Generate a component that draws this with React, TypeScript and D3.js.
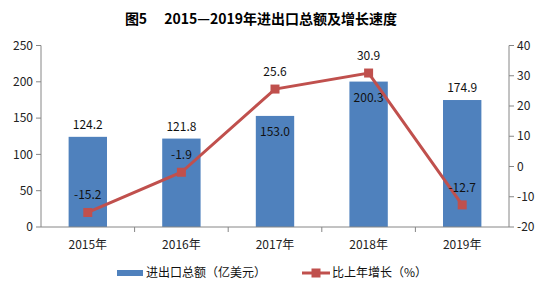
import React, { useRef, useEffect } from "react";
import * as d3 from "d3";

const years = ["2015年", "2016年", "2017年", "2018年", "2019年"];
const totals = [124.2, 121.8, 153.0, 200.3, 174.9];
const growth = [-15.2, -1.9, 25.6, 30.9, -12.7];
const leftTicks = [0, 50, 100, 150, 200, 250];
const rightTicks = [-20, -10, 0, 10, 20, 30, 40];
// bar labels that sit inside the bar top (line labels take the space above)
const insideLabel = [false, false, true, true, false];

const FONT = "'Noto Sans CJK SC', 'Noto Sans', sans-serif";
const BLUE = "#4F81BD";
const RED = "#C0504D";
const AXIS = "#868686";

const App: React.FC = () => {
  const svgRef = useRef<SVGSVGElement | null>(null);

  useEffect(() => {
    const svg = d3.select(svgRef.current);
    svg.selectAll("*").remove();

    const left = 41;
    const right = 509;
    const top = 45.5;
    const bottom = 227;

    const x = d3.scaleBand().domain(years).range([left, right]).padding(0);
    const barW = x.bandwidth() * 0.41;
    const yL = d3.scaleLinear().domain([0, 250]).range([bottom, top]);
    const yR = d3.scaleLinear().domain([-20, 40]).range([bottom, top]);
    const cx = (d: string) => x(d)! + x.bandwidth() / 2;

    // title
    svg
      .append("text")
      .attr("x", 261)
      .attr("y", 24)
      .attr("text-anchor", "middle")
      .attr("font-family", FONT)
      .attr("font-weight", "bold")
      .attr("font-size", 14)
      .text("图5\u3000 2015—2019年进出口总额及增长速度");

    // bars
    svg
      .selectAll("rect.bar")
      .data(totals)
      .enter()
      .append("rect")
      .attr("class", "bar")
      .attr("x", (_, i) => cx(years[i]) - barW / 2)
      .attr("y", (d) => yL(d))
      .attr("width", barW)
      .attr("height", (d) => bottom - yL(d))
      .attr("fill", BLUE);

    // axes
    const gL = svg.append("g").attr("transform", `translate(${left},0)`);
    gL.append("line").attr("y1", top).attr("y2", bottom).attr("stroke", AXIS);
    leftTicks.forEach((t) => {
      gL.append("line").attr("x1", -5).attr("x2", 0).attr("y1", yL(t)).attr("y2", yL(t)).attr("stroke", AXIS);
      gL.append("text")
        .attr("x", -8)
        .attr("y", yL(t))
        .attr("dy", "0.35em")
        .attr("text-anchor", "end")
        .attr("font-family", FONT)
        .attr("font-size", 12)
        .attr("fill", "#222")
        .text(t);
    });

    const gR = svg.append("g").attr("transform", `translate(${right},0)`);
    gR.append("line").attr("y1", top).attr("y2", bottom).attr("stroke", AXIS);
    rightTicks.forEach((t) => {
      gR.append("line").attr("x1", 0).attr("x2", 5).attr("y1", yR(t)).attr("y2", yR(t)).attr("stroke", AXIS);
      gR.append("text")
        .attr("x", 8)
        .attr("y", yR(t))
        .attr("dy", "0.35em")
        .attr("font-family", FONT)
        .attr("font-size", 12)
        .attr("fill", "#222")
        .text(t);
    });

    // x axis
    svg.append("line").attr("x1", left).attr("x2", right).attr("y1", bottom).attr("y2", bottom).attr("stroke", AXIS);
    years.forEach((y, i) => {
      const xt = x(y)!;
      if (i > 0) {
        svg.append("line").attr("x1", xt).attr("x2", xt).attr("y1", bottom).attr("y2", bottom + 5).attr("stroke", AXIS);
      }
      svg
        .append("text")
        .attr("x", cx(y))
        .attr("y", 249)
        .attr("text-anchor", "middle")
        .attr("font-family", FONT)
        .attr("font-size", 12)
        .attr("fill", "#222")
        .text(y);
    });

    // bar labels
    svg
      .selectAll("text.barlabel")
      .data(totals)
      .enter()
      .append("text")
      .attr("class", "barlabel")
      .attr("x", (_, i) => cx(years[i]))
      .attr("y", (d, i) => (insideLabel[i] ? yL(d) + 20 : yL(d) - 8))
      .attr("text-anchor", "middle")
      .attr("font-family", FONT)
      .attr("font-size", 12)
      .attr("fill", "#111")
      .text((d) => d.toFixed(1));

    // line
    const line = d3
      .line<number>()
      .x((_, i) => cx(years[i]))
      .y((d) => yR(d));
    svg.append("path").datum(growth).attr("d", line).attr("fill", "none").attr("stroke", RED).attr("stroke-width", 3);

    svg
      .selectAll("rect.marker")
      .data(growth)
      .enter()
      .append("rect")
      .attr("class", "marker")
      .attr("x", (_, i) => cx(years[i]) - 4.5)
      .attr("y", (d) => yR(d) - 4.5)
      .attr("width", 9)
      .attr("height", 9)
      .attr("fill", RED);

    svg
      .selectAll("text.linelabel")
      .data(growth)
      .enter()
      .append("text")
      .attr("class", "linelabel")
      .attr("x", (_, i) => cx(years[i]))
      .attr("y", (d) => yR(d) - 13)
      .attr("text-anchor", "middle")
      .attr("font-family", FONT)
      .attr("font-size", 12)
      .attr("fill", "#111")
      .text((d) => d.toFixed(1));

    // legend
    const ly = 273;
    svg.append("rect").attr("x", 117).attr("y", ly - 3).attr("width", 26).attr("height", 6).attr("fill", BLUE);
    svg
      .append("text")
      .attr("x", 146)
      .attr("y", ly)
      .attr("dy", "0.35em")
      .attr("font-family", FONT)
      .attr("font-size", 12)
      .attr("fill", "#111")
      .text("进出口总额（亿美元）");
    svg.append("line").attr("x1", 302).attr("x2", 330).attr("y1", ly).attr("y2", ly).attr("stroke", RED).attr("stroke-width", 3);
    svg.append("rect").attr("x", 311.5).attr("y", ly - 4.5).attr("width", 9).attr("height", 9).attr("fill", RED);
    svg
      .append("text")
      .attr("x", 332)
      .attr("y", ly)
      .attr("dy", "0.35em")
      .attr("font-family", FONT)
      .attr("font-size", 12)
      .attr("fill", "#111")
      .text("比上年增长（%）");
  }, []);

  return (
    <svg
      ref={svgRef}
      width={547}
      height={294}
      style={{ position: "absolute", left: 0, top: 0, background: "#fff" }}
    ></svg>
  );
};

export default App;
